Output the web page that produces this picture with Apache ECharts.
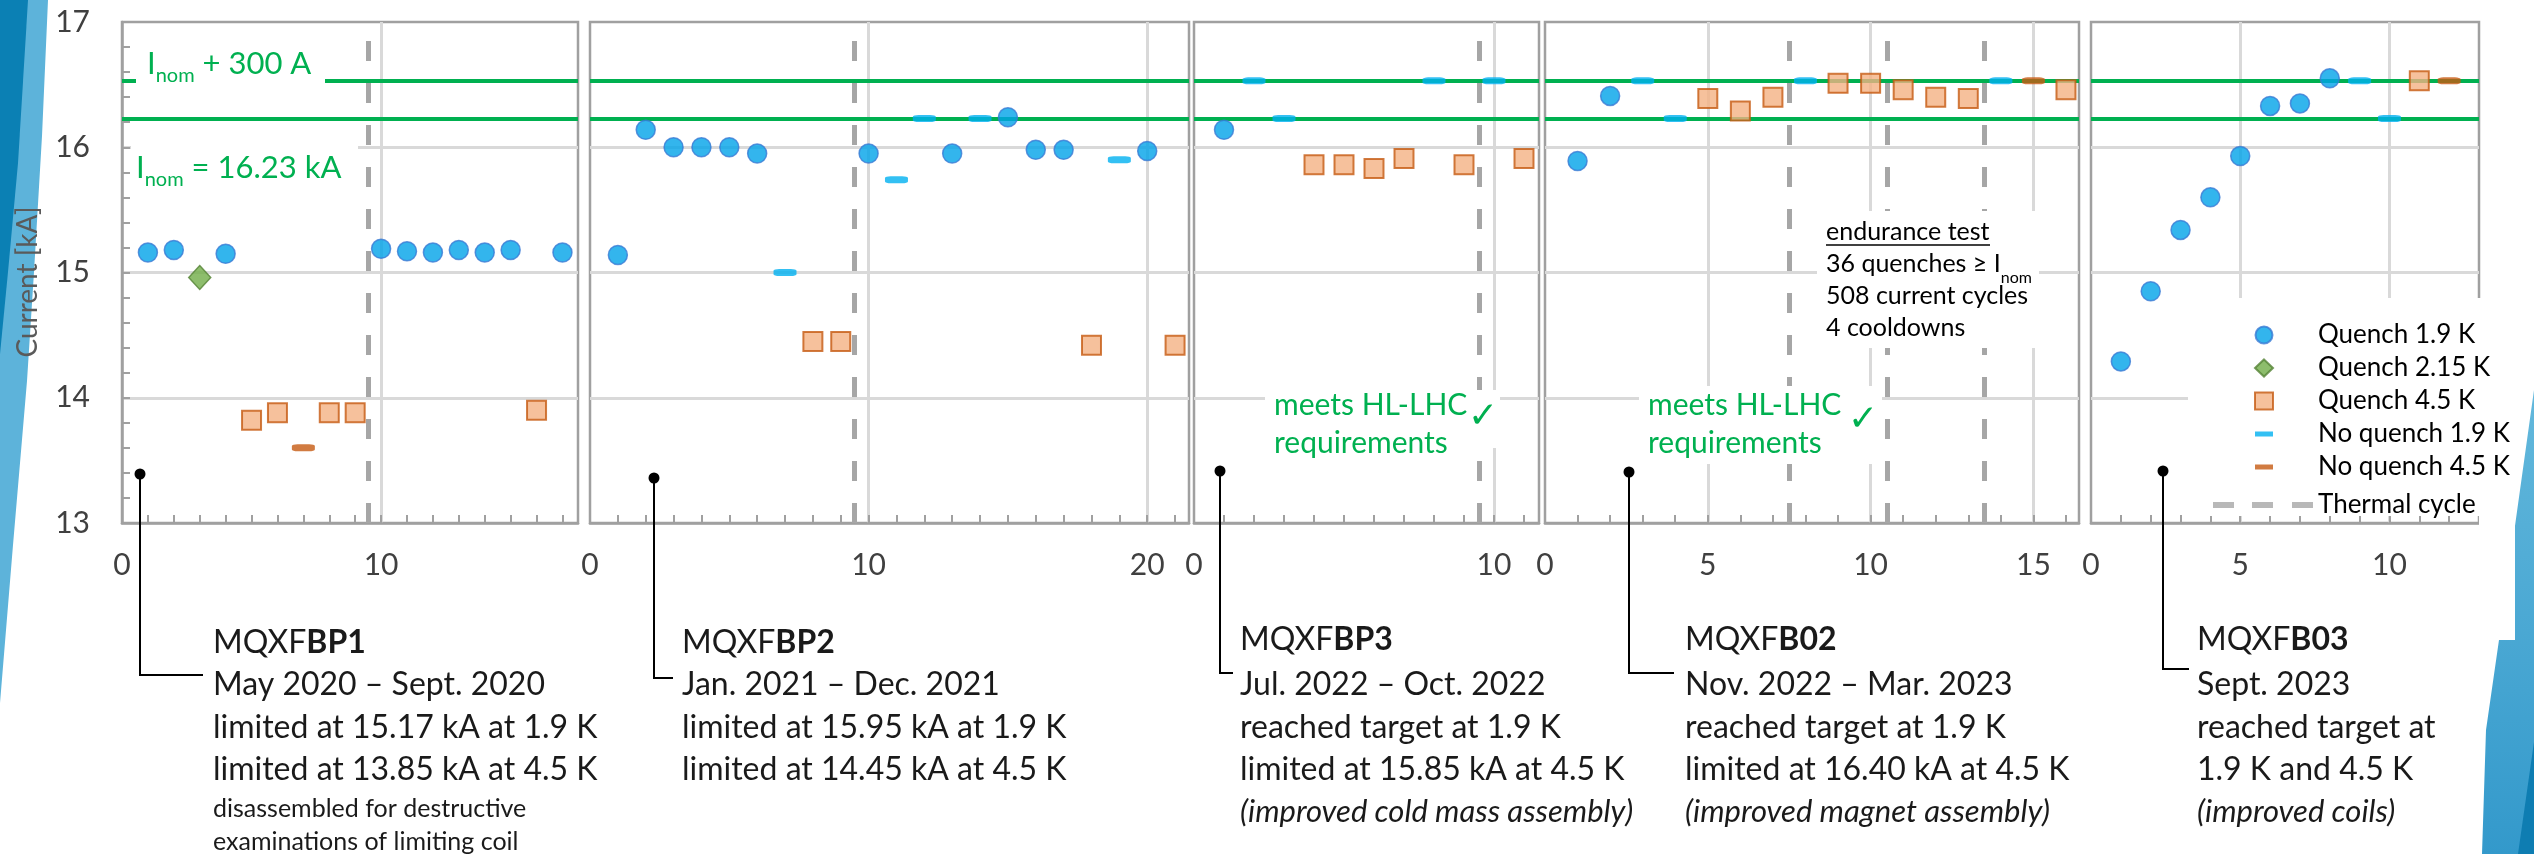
<!DOCTYPE html>
<html><head><meta charset="utf-8">
<script src="https://cdn.jsdelivr.net/npm/echarts@6/dist/echarts.min.js"></script>
<style>html,body{margin:0;padding:0;background:#fff}#c{width:2534px;height:854px}</style>
</head><body><div id="c"></div>
<script>
// ================= DATA =================
const panelNames = ['MQXFBP1', 'MQXFBP2', 'MQXFBP3', 'MQXFB02', 'MQXFB03'];
const xMax = [17.6, 21.5, 11.5, 16.4, 13];
const xMajor = [10, 10, 10, 5, 5];
const yMin = 13, yMax = 17, yStep = 1;
const iNom = 16.23;
const iNomPlus300 = 16.53;

// MQXFBP1
const bp1Quench19 = [[1,15.16],[2,15.18],[4,15.15],[10,15.19],[11,15.17],[12,15.16],[13,15.18],[14,15.16],[15,15.18],[17,15.16]];
const bp1Quench215 = [[3,14.96]];
const bp1Quench45 = [[5,13.82],[6,13.88],[8,13.88],[9,13.88],[16,13.90]];
const bp1NoQuench19 = [];
const bp1NoQuench45 = [[7,13.60]];
const bp1Thermal = [9.5];
// MQXFBP2
const bp2Quench19 = [[1,15.14],[2,16.14],[3,16.00],[4,16.00],[5,16.00],[6,15.95],[10,15.95],[13,15.95],[15,16.24],[16,15.98],[17,15.98],[20,15.97]];
const bp2Quench215 = [];
const bp2Quench45 = [[8,14.45],[9,14.45],[18,14.42],[21,14.42]];
const bp2NoQuench19 = [[7,15.00],[11,15.74],[12,16.23],[14,16.23],[19,15.90]];
const bp2NoQuench45 = [];
const bp2Thermal = [9.5];
// MQXFBP3
const bp3Quench19 = [[1,16.14]];
const bp3Quench215 = [];
const bp3Quench45 = [[4,15.86],[5,15.86],[6,15.83],[7,15.91],[9,15.86],[11,15.91]];
const bp3NoQuench19 = [[2,16.53],[3,16.23],[8,16.53],[10,16.53]];
const bp3NoQuench45 = [];
const bp3Thermal = [9.5];
// MQXFB02
const b02Quench19 = [[1,15.89],[2,16.41]];
const b02Quench215 = [];
const b02Quench45 = [[5,16.39],[6,16.29],[7,16.40],[9,16.51],[10,16.51],[11,16.46],[12,16.40],[13,16.39],[16,16.46]];
const b02NoQuench19 = [[3,16.53],[4,16.23],[8,16.53],[14,16.53]];
const b02NoQuench45 = [[15,16.53]];
const b02Thermal = [7.5, 10.5, 13.5];
// MQXFB03
const b03Quench19 = [[1,14.29],[2,14.85],[3,15.34],[4,15.60],[5,15.93],[6,16.33],[7,16.35],[8,16.55]];
const b03Quench215 = [];
const b03Quench45 = [[11,16.53]];
const b03NoQuench19 = [[9,16.53],[10,16.23]];
const b03NoQuench45 = [[12,16.53]];
const b03Thermal = [];

const panelData = [
  {q19:bp1Quench19, q215:bp1Quench215, q45:bp1Quench45, nq19:bp1NoQuench19, nq45:bp1NoQuench45, thermal:bp1Thermal},
  {q19:bp2Quench19, q215:bp2Quench215, q45:bp2Quench45, nq19:bp2NoQuench19, nq45:bp2NoQuench45, thermal:bp2Thermal},
  {q19:bp3Quench19, q215:bp3Quench215, q45:bp3Quench45, nq19:bp3NoQuench19, nq45:bp3NoQuench45, thermal:bp3Thermal},
  {q19:b02Quench19, q215:b02Quench215, q45:b02Quench45, nq19:b02NoQuench19, nq45:b02NoQuench45, thermal:b02Thermal},
  {q19:b03Quench19, q215:b03Quench215, q45:b03Quench45, nq19:b03NoQuench19, nq45:b03NoQuench45, thermal:b03Thermal}
];

// ================= STYLE / LAYOUT =================
const FONT = 'Lato, "Open Sans", sans-serif';
const GREEN = '#00B050';
const GRIDC = '#d9d9d9';
const AXC = '#a0a0a0';
const TH = '#a6a6a6';
const grids = [
  {left:122, top:22, width:456, height:501},
  {left:590, top:22, width:599, height:501},
  {left:1194, top:22, width:345, height:501},
  {left:1545, top:22, width:534, height:501},
  {left:2091, top:22, width:388, height:501}
].map(g => Object.assign({show:true, borderColor:AXC, borderWidth:2.5, backgroundColor:'transparent'}, g));

const kinds = [
  {key:'q19', name:'Quench 1.9 K', symbol:'circle', size:19, style:{color:'#00A3E8', borderColor:'#3A7BD5', borderWidth:1.5}},
  {key:'q215', name:'Quench 2.15 K', symbol:'diamond', size:[22,24], style:{color:'#70AD47', borderColor:'#548235', borderWidth:1.5}},
  {key:'q45', name:'Quench 4.5 K', symbol:'rect', size:19, style:{color:'#F4B183', borderColor:'#C55A11', borderWidth:2}},
  {key:'nq19', name:'No quench 1.9 K', symbol:'roundRect', size:[23,7], style:{color:'#00B0F0'}},
  {key:'nq45', name:'No quench 4.5 K', symbol:'roundRect', size:[23,7], style:{color:'#C55A11'}}
];

const xAxes = [], yAxes = [], series = [];
grids.forEach((g, i) => {
  const maj = xMajor[i];
  xAxes.push({
    gridIndex:i, type:'value', min:0, max:xMax[i], interval:maj, position:'bottom',
    axisLine:{show:false}, axisTick:{show:false},
    splitLine:{show:true, showMinLine:false, showMaxLine:false, lineStyle:{color:GRIDC, width:3}},
    axisLabel:{show:true, fontSize:30, lineHeight:30, margin:27, color:'#404040', fontFamily:FONT,
      formatter: v => (Math.abs(v % maj) < 1e-9 ? String(v) : '')}
  });
  xAxes.push({
    gridIndex:i, type:'value', min:0, max:xMax[i], interval:1, position:'bottom',
    axisLine:{show:true, lineStyle:{color:AXC, width:2.5}},
    axisTick:{show:true, inside:true, length:8, lineStyle:{color:AXC, width:2}},
    axisLabel:{show:false}, splitLine:{show:false}
  });
  yAxes.push({
    gridIndex:i, type:'value', min:yMin, max:yMax, interval:yStep,
    axisLine:{show:i===0, lineStyle:{color:AXC, width:2.5}},
    axisTick:{show:i===0, inside:true, length:8, lineStyle:{color:AXC, width:2}},
    minorTick:{show:i===0, splitNumber:5, length:8, lineStyle:{color:AXC, width:2}},
    axisLabel:{show:i===0, fontSize:30, margin:32, color:'#404040', fontFamily:FONT},
    splitLine:{show:true, showMinLine:false, showMaxLine:false, lineStyle:{color:GRIDC, width:3}}
  });
  // nominal current lines
  series.push({
    type:'scatter', xAxisIndex:2*i, yAxisIndex:i, data:[], silent:true, z:2,
    markLine:{symbol:'none', silent:true, label:{show:false}, animation:false,
      lineStyle:{color:GREEN, width:4, type:'solid'},
      data:[{yAxis:iNom},{yAxis:iNomPlus300}]}
  });
  // thermal cycles
  series.push({
    type:'scatter', name:'Thermal cycle', xAxisIndex:2*i, yAxisIndex:i, data:[], silent:true, z:3,
    itemStyle:{color:TH},
    markLine:{symbol:'none', silent:true, label:{show:false}, animation:false,
      lineStyle:{color:TH, width:5, type:[20,22]},
      data:panelData[i].thermal.map(x => ({xAxis:x}))}
  });
  kinds.forEach(k => {
    const d = panelData[i][k.key];
    if (!d.length) return;
    series.push({
      type:'scatter', name:k.name, xAxisIndex:2*i, yAxisIndex:i, z:5,
      symbol:k.symbol, symbolSize:k.size, itemStyle:k.style, data:d
    });
  });
});

// ================= ANNOTATIONS =================
const G = [];
const Z = 100;
// slide decorations
G.push({type:'polygon', z:1, shape:{points:[[0,0],[48,0],[42,136],[34,272],[27,381],[13,545],[0,703]]}, style:{fill:'#5DB3DA'}});
G.push({type:'polygon', z:2, shape:{points:[[0,0],[28,0],[18,163],[8,272],[0,354]]}, style:{fill:'#0B80B4'}});
G.push({type:'polygon', z:1, shape:{points:[[2534,390],[2534,854],[2482,854],[2486,730],[2500,633]]},
  style:{fill:new echarts.graphic.LinearGradient(0,0,0,1,[{offset:0,color:'#63B8DC'},{offset:1,color:'#3399CB'}])}});
G.push({type:'polygon', z:2, shape:{points:[[2534,742],[2534,854],[2518,854]]}, style:{fill:'#0E7DB2'}});
G.push({type:'text', z:3, x:28, y:282, rotation:Math.PI/2,
  style:{text:'Current [kA]', fontSize:28, fontFamily:FONT, fill:'#5a5a5a', align:'center', verticalAlign:'middle'}});

function box(x, y, w, h) { G.push({type:'rect', z:Z, shape:{x, y, width:w, height:h}, style:{fill:'#fff'}}); }
function txt(x, y, s, o) {
  G.push({type:'text', z:Z+1, x, y, style:Object.assign({text:s, fontSize:32, fontFamily:FONT, fill:'#1a1a1a',
    align:'left', verticalAlign:'middle'}, o || {})});
}
const subRich = (size, lh, col) => ({
  a:{fontSize:size, lineHeight:lh, fill:col, fontFamily:FONT},
  s:{fontSize:Math.round(size*0.64), lineHeight:Math.round(size*0.64), verticalAlign:'bottom', fill:col, fontFamily:FONT}
});

// I_nom labels (panel 1)
box(136, 46, 189, 44);
txt(147, 42, '{a|I}{s|nom}{a| + 300 A}', {verticalAlign:'top', rich:subRich(31, 44, GREEN)});
box(131, 138, 227, 58);
txt(136, 146, '{a|I}{s|nom}{a| = 16.23 kA}', {verticalAlign:'top', rich:subRich(31, 44, GREEN)});

// meets HL-LHC requirements (panels 3, 4)
box(1265, 390, 235, 58);
txt(1274, 405, 'meets HL-LHC', {fill:GREEN, fontSize:30});
txt(1274, 443, 'requirements', {fill:GREEN, fontSize:30});
txt(1483, 418, '\u2713', {fill:GREEN, fontSize:36, align:'center', fontFamily:'DejaVu Sans'});
box(1639, 386, 243, 78);
txt(1648, 405, 'meets HL-LHC', {fill:GREEN, fontSize:30});
txt(1648, 443, 'requirements', {fill:GREEN, fontSize:30});
txt(1863, 421, '\u2713', {fill:GREEN, fontSize:36, align:'center', fontFamily:'DejaVu Sans'});

// endurance test (panel 4)
box(1817, 211, 222, 137);
txt(1826, 232, 'endurance test', {fontSize:25, fill:'#000'});
G.push({type:'line', z:Z+1, shape:{x1:1826, y1:245, x2:1990, y2:245}, style:{stroke:'#000', lineWidth:1.5}});
txt(1826, 242, '{a|36 quenches \u2265 I}{s|nom}', {verticalAlign:'top', rich:subRich(25, 44, '#000')});
txt(1826, 296, '508 current cycles', {fontSize:25, fill:'#000'});
txt(1826, 328, '4 cooldowns', {fontSize:25, fill:'#000'});

// legend background
box(2188, 298, 327, 218);
box(2479, 298, 36, 342);

// leader lines and magnet descriptions
const leaders = [
  [[140,474],[140,675],[203,675]],
  [[654,478],[654,678],[673,678]],
  [[1220,471],[1220,673],[1233,673]],
  [[1629,472],[1629,673],[1674,673]],
  [[2163,471],[2163,669],[2189,669]]
];
leaders.forEach(p => {
  G.push({type:'polyline', z:Z+2, shape:{points:p}, style:{stroke:'#000', lineWidth:2, fill:null}});
  G.push({type:'circle', z:Z+2, shape:{cx:p[0][0], cy:p[0][1], r:5.5}, style:{fill:'#000'}});
});
const titleRich = {r:{fontSize:32, fontFamily:FONT, fill:'#1a1a1a'}, b:{fontSize:32, fontFamily:FONT, fontWeight:'bold', fill:'#1a1a1a'}};
function title(x, y, name) {
  txt(x, y, '{r|MQXF}{b|' + name.slice(4) + '}', {rich:titleRich});
}
const rows = [685, 728, 770];
const blocks = [
  {x:213, ty:643, lines:['May 2020 \u2013 Sept. 2020', 'limited at 15.17 kA at 1.9 K', 'limited at 13.85 kA at 4.5 K']},
  {x:682, ty:643, lines:['Jan. 2021 \u2013 Dec. 2021', 'limited at 15.95 kA at 1.9 K', 'limited at 14.45 kA at 4.5 K']},
  {x:1240, ty:640, lines:['Jul. 2022 \u2013 Oct. 2022', 'reached target at 1.9 K', 'limited at 15.85 kA at 4.5 K'], it:'(improved cold mass assembly)'},
  {x:1685, ty:640, lines:['Nov. 2022 \u2013 Mar. 2023', 'reached target at 1.9 K', 'limited at 16.40 kA at 4.5 K'], it:'(improved magnet assembly)'},
  {x:2197, ty:640, lines:['Sept. 2023', 'reached target at', '1.9 K and 4.5 K'], it:'(improved coils)'}
];
blocks.forEach((b, i) => {
  title(b.x, b.ty, panelNames[i]);
  b.lines.forEach((l, j) => txt(b.x, rows[j], l));
  if (b.it) txt(b.x, 812, b.it, {fontStyle:'italic', fontSize:31});
});
txt(213, 809, 'disassembled for destructive', {fontSize:25});
txt(213, 842, 'examinations of limiting coil', {fontSize:25});

// ================= CHART =================
const option = {
  animation:false,
  backgroundColor:'#fff',
  grid:grids, xAxis:xAxes, yAxis:yAxes, series:series,
  legend:[
    {orient:'vertical', left:2249, top:317, itemWidth:18, itemHeight:17, itemGap:7, selectedMode:false,
     textStyle:{fontSize:26, color:'#000', fontFamily:FONT, padding:[0,0,0,40]},
     data:[
       {name:'Quench 1.9 K'}, {name:'Quench 2.15 K'}, {name:'Quench 4.5 K'},
       {name:'No quench 1.9 K', icon:'path://M0,0h18v5h-18z'},
       {name:'No quench 4.5 K', icon:'path://M0,0h18v5h-18z'}
     ], z:Z+3},
    {orient:'vertical', left:2208, top:487, itemWidth:100, itemHeight:6, selectedMode:false,
     textStyle:{fontSize:26, color:'#000', fontFamily:FONT, padding:[0,0,0,0]},
     data:[{name:'Thermal cycle', icon:'path://M0,0h21v6h-21z M39,0h21v6h-21z M79,0h21v6h-21z'}], z:Z+3}
  ],
  graphic:{elements:G}
};
const chart = echarts.init(document.getElementById('c'), null, {renderer:'canvas', width:2534, height:854});
chart.setOption(option);
</script></body></html>
